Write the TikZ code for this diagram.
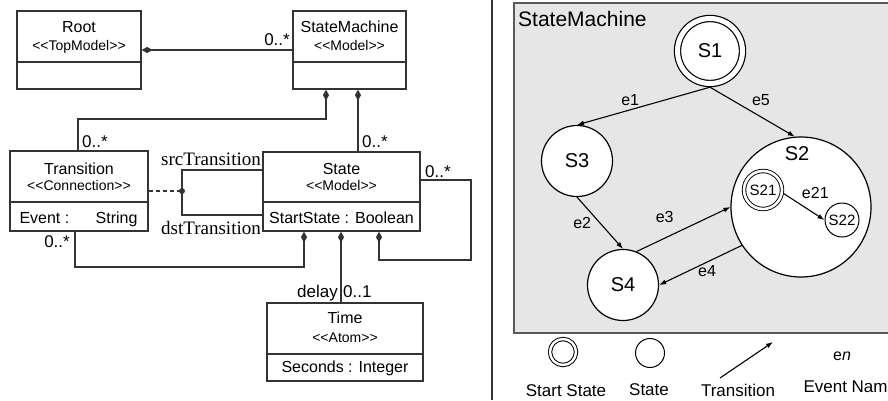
\documentclass[tikz,border=0pt]{standalone}
\usepackage{fontspec}
\setmainfont{Liberation Sans}
\newfontfamily\rolefont{Liberation Serif}
\usetikzlibrary{arrows.meta}
\definecolor{panelgrey}{HTML}{E6E6E6}
\definecolor{umlgrey}{HTML}{333333}
\newcommand{\stereo}[1]{<\kern0pt<#1>\kern0pt>}

\tikzset{
  umlbox/.style={draw=umlgrey, line width=1.3pt, inner sep=0pt},
  umlname/.style={anchor=base, font=\fontsize{16}{18}\selectfont},
  umlstereo/.style={anchor=base, font=\fontsize{14}{16}\selectfont},
  umlattr/.style={anchor=base, font=\fontsize{16}{18}\selectfont},
  link/.style={draw=umlgrey, line width=1.3pt},
  comp/.style={link, {Diamond[length=11pt,width=6pt]}-},
  mult/.style={font=\fontsize{17}{19}\selectfont, inner sep=1pt},
  role/.style={font=\rolefont\fontsize{19}{21}\selectfont, inner sep=0pt},
  state/.style={circle, draw, line width=1.2pt, fill=white, inner sep=0pt, font=\fontsize{20}{22}\selectfont},
  startstate/.style={state, double, double distance=5pt, outer sep=3.7pt},
  trans/.style={-{Latex[length=7pt,width=5pt]}, line width=1.1pt},
  evt/.style={font=\fontsize{16}{18}\selectfont},
  legend/.style={anchor=base, font=\fontsize{17}{19}\selectfont},
}

\begin{document}
\begin{tikzpicture}[x=1pt, y=-1pt]
    \useasboundingbox (0,0) rectangle (888,400);

    % class diagram
    \node[umlbox, minimum width=124pt, minimum height=78pt] (root) at (79,50) {};
    \node[umlname] (rootname) at (79,32) {Root};
    \node[umlstereo] (rootstereo) at (79,50) {\stereo{TopModel}};
    \draw[link] (root.west |- 0,62) -- (root.east |- 0,62);

    \node[umlbox, minimum width=113pt, minimum height=78pt] (sm) at (349.5,50) {};
    \node[umlname] (smname) at (349.5,32) {StateMachine};
    \node[umlstereo] (smstereo) at (349.5,50) {\stereo{Model}};
    \draw[link] (sm.west |- 0,62) -- (sm.east |- 0,62);

    \node[umlbox, minimum width=138pt, minimum height=80pt] (trans) at (79,191) {};
    \node[umlname] (transname) at (79,174) {Transition};
    \node[umlstereo] (transstereo) at (79,190) {\stereo{Connection}};
    \draw[link] (trans.west |- 0,202) -- (trans.east |- 0,202);
    \node[umlattr, anchor=base west] (transattr) at (16,223) {Event :};
    \node[umlattr, anchor=base east] (transtype) at (141,223) {String};

    \node[umlbox, minimum width=157pt, minimum height=79pt] (state) at (341.5,191.5) {};
    \node[umlname] (statename) at (341.5,174) {State};
    \node[umlstereo] (statestereo) at (341.5,190) {\stereo{Model}};
    \draw[link] (state.west |- 0,202) -- (state.east |- 0,202);
    \node[umlattr] (stateattr) at (341.5,223) {StartState : Boolean};

    \node[umlbox, minimum width=156pt, minimum height=78pt] (time) at (345,342) {};
    \node[umlname] (timename) at (345,323) {Time};
    \node[umlstereo] (timestereo) at (345,342) {\stereo{Atom}};
    \draw[link] (time.west |- 0,354) -- (time.east |- 0,354);
    \node[umlattr] (timeattr) at (345,372) {Seconds : Integer};

    \draw[comp] (root.east) -- (sm.west);
    \node[mult, anchor=base east] at (291,45) {0..*};

    \draw[comp] (sm.south -| 326,0) -- (326,119) -| (trans.north -| 78,0);
    \node[mult, anchor=base west] at (81,147) {0..*};
    \draw[comp] (sm.south -| 358,0) -- (state.north -| 358,0);
    \node[mult, anchor=base west] at (361,147) {0..*};

    \coordinate (join) at (182,191);
    \draw[link] (state.west |- 0,170) -| (join) |- (state.west |- 0,215);
    \draw[link, dash pattern=on 4pt off 3pt] (trans.east) -- (join);
    \fill[umlgrey] (join) circle (3pt);
    \node[role, anchor=base east] at (261,165) {srcTransition};
    \node[role, anchor=base east] at (261,234) {dstTransition};

    \draw[comp] (state.south -| 304,0) -- (304,267) -| (trans.south -| 75,0);
    \node[mult, anchor=base east] at (71,247) {0..*};
    \draw[comp] (state.south -| 341,0) -- (time.north -| 341,0);
    \node[mult, anchor=base east] at (339,297) {delay};
    \node[mult, anchor=base west] at (342,297) {0..1};
    \draw[comp] (state.south -| 379,0) -- (379,260) -| (471,180) -- (state.east |- 0,180);
    \node[mult, anchor=base west] at (424,177) {0..*};

    \draw[umlgrey, line width=1.5pt] (492,0) -- (492,400);

    % state machine
    \draw[line width=2pt, draw=black!65, fill=panelgrey] (514,3) rectangle (900,333);
    \node[anchor=base west, inner sep=0pt, font=\fontsize{21}{23}\selectfont] (smtitle) at (518,26) {StateMachine};

    \node[startstate, minimum size=65pt] (s1) at (710,51) {S1};
    \node[state, minimum size=71pt] (s3) at (577,161) {S3};
    \node[state, minimum size=71pt] (s4) at (623,285) {S4};
    \node[state, minimum size=140pt] (s2) at (801,207) {};
    \node[font=\fontsize{20}{22}\selectfont] (s2name) at (797,154) {S2};
    \node[startstate, minimum size=38pt, double distance=2.6pt, line width=0.9pt, outer sep=2.2pt, font=\fontsize{15}{17}\selectfont] (s21) at (763,190) {S21};
    \node[state, minimum size=34pt, line width=1pt, font=\fontsize{15}{17}\selectfont] (s22) at (842,220) {S22};

    \draw[trans] (s1.south) -- node[evt, above, pos=0.6]{e1} (s3.north);
    \draw[trans] (s1.south) -- node[evt, above right, pos=0.45]{e5} (s2.95);
    \draw[trans] (s3.south) -- node[evt, left, xshift=-5pt]{e2} (s4.north);
    \draw[trans] (s4.68) -- node[evt, above=12pt, pos=0.3]{e3} (s2.west);
    \draw[trans] (s2.213) -- node[evt, below, pos=0.42]{e4} (s4.east);
    \draw[trans] (s21.-10) -- node[evt, above right, pos=0.35]{e21} (s22.west);

    % legend
    \node[startstate, minimum size=26pt, double distance=2.4pt, line width=1pt, outer sep=0pt] (lstart) at (563,352) {};
    \node[state, minimum size=29pt, line width=1pt] (lstate) at (650,353) {};
    \coordinate (ltail) at (720,378);
    \coordinate (lhead) at (773,342);
    \draw[trans] (ltail) -- (lhead);
    \node[evt, anchor=base] (lname) at (842,360) {e\textit{n}};
    \node[legend] at (566,396) {Start State};
    \node[legend] at (649,395) {State};
    \node[legend] at (738,396) {Transition};
    \node[legend, anchor=base west] at (800,392) {Event Name};
\end{tikzpicture}
\end{document}
